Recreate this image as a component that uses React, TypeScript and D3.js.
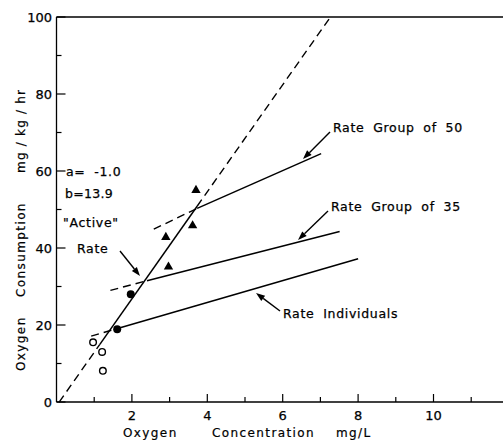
import React from "react";
import * as d3 from "d3";

// Data
const openCircles: [number, number][] = [[0.97, 15.5], [1.21, 13], [1.23, 8.1]];
const filledCircles: [number, number][] = [[1.61, 18.9], [1.97, 28]];
const triangles: [number, number][] = [[3.7, 55], [3.61, 45.8], [2.9, 42.8], [2.97, 35.1]];

// Active rate: y = a + b x
const activeA = -1.0;
const activeB = 13.9;
const activeDashLow: [number, number] = [0.07, 1.15];
const activeSolid: [number, number] = [1.15, 3.73];
const activeDashHigh: [number, number] = [3.73, 7.27];

// Group lines: [x0, y0, x1, y1]
const group50Dash: [number, number, number, number] = [2.58, 44.9, 3.73, 50.3];
const group50Solid: [number, number, number, number] = [3.73, 50.3, 7.02, 64.5];
const group35Dash: [number, number, number, number] = [1.43, 29.0, 2.4, 31.5];
const group35Solid: [number, number, number, number] = [2.4, 31.5, 7.51, 44.3];
const indivDash: [number, number, number, number] = [0.92, 17.1, 1.55, 18.9];
const indivSolid: [number, number, number, number] = [1.55, 18.9, 8.0, 37.2];

const xMajor = [2, 4, 6, 8, 10];
const xMinor = [1, 3, 5, 7, 9, 11];
const yMajor = [0, 20, 40, 60, 80, 100];
const yMinor = [10, 30, 50, 70, 90];

const FONT = "'DejaVu Sans', sans-serif";

export default function App() {
  const W = 503, H = 440;
  const x = d3.scaleLinear().domain([0, 12]).range([56.5, 56.5 + 12 * 37.7]);
  const y = d3.scaleLinear().domain([0, 100]).range([402, 17]);
  const line = d3.line<[number, number]>().x(d => x(d[0])).y(d => y(d[1]));
  const act = (r: [number, number]) => line([[r[0], activeA + activeB * r[0]], [r[1], activeA + activeB * r[1]]]) || "";
  const seg = (s: [number, number, number, number]) => line([[s[0], s[1]], [s[2], s[3]]]) || "";
  const dash = "8,5";
  const tri = d3.symbol().type(d3.symbolTriangle).size(38)() || "";

  const arrow = (x1: number, y1: number, x2: number, y2: number, key: string) => {
    const ang = Math.atan2(y2 - y1, x2 - x1);
    const L = 9, w = 3.2;
    const bx = x2 - L * Math.cos(ang), by = y2 - L * Math.sin(ang);
    const px = -Math.sin(ang) * w, py = Math.cos(ang) * w;
    return (
      <g key={key}>
        <line x1={x1} y1={y1} x2={bx} y2={by} stroke="#000" strokeWidth={1.4} />
        <path d={`M${x2},${y2}L${bx + px},${by + py}L${bx - px},${by - py}Z`} fill="#000" />
      </g>
    );
  };

  const txt = { fontFamily: FONT, fontSize: 13, fill: "#000", stroke: "#000", strokeWidth: 0.25 } as const;
  const lbl = { fontFamily: FONT, fontSize: 12.5, fill: "#000", letterSpacing: 0.7, wordSpacing: 4, stroke: "#000", strokeWidth: 0.25 } as const;
  const ttl = { fontFamily: FONT, fontSize: 12, fill: "#000", letterSpacing: 1.4, stroke: "#000", strokeWidth: 0.2 } as const;

  return (
    <svg width={W} height={H} style={{ position: "absolute", left: 0, top: 0, background: "#fff" }}>
      <rect width={W} height={H} fill="#fff" />
      {/* frame */}
      <line x1={x(0)} y1={y(0)} x2={W} y2={y(0)} stroke="#000" strokeWidth={1.3} />
      <line x1={x(0)} y1={y(100)} x2={W} y2={y(100)} stroke="#000" strokeWidth={1.3} />
      <line x1={x(0)} y1={y(0)} x2={x(0)} y2={y(100)} stroke="#000" strokeWidth={1.3} />
      {/* x ticks */}
      {xMajor.map(v => <line key={"xM" + v} x1={x(v)} x2={x(v)} y1={y(0)} y2={y(0) - 8} stroke="#000" strokeWidth={1.2} />)}
      {xMinor.map(v => <line key={"xm" + v} x1={x(v)} x2={x(v)} y1={y(0)} y2={y(0) - 5} stroke="#000" strokeWidth={1.2} />)}
      {xMajor.map(v => <text key={"xl" + v} x={x(v)} y={420} textAnchor="middle" {...txt}>{v}</text>)}
      {/* y ticks */}
      {yMajor.map(v => <line key={"yM" + v} x1={x(0)} x2={x(0) + 9} y1={y(v)} y2={y(v)} stroke="#000" strokeWidth={1.2} />)}
      {yMinor.map(v => <line key={"ym" + v} x1={x(0)} x2={x(0) + 5} y1={y(v)} y2={y(v)} stroke="#000" strokeWidth={1.2} />)}
      {yMajor.map(v => <text key={"yl" + v} x={52} y={y(v) + 5} textAnchor="end" {...txt}>{v}</text>)}
      {/* axis titles */}
      <text x={123} y={437} {...ttl}>Oxygen</text>
      <text x={212} y={437} {...ttl}>Concentration</text>
      <text x={336} y={437} {...ttl}>mg/L</text>
      <text transform="translate(25,371) rotate(-90)" {...ttl}>Oxygen</text>
      <text transform="translate(25,297) rotate(-90)" {...ttl}>Consumption</text>
      <text transform="translate(25,173) rotate(-90)" {...ttl} letterSpacing={1.2}>mg / kg / hr</text>

      {/* active rate line */}
      <path d={act(activeDashLow)} stroke="#000" strokeWidth={1.4} strokeDasharray={dash} fill="none" />
      <path d={act(activeSolid)} stroke="#000" strokeWidth={1.5} fill="none" />
      <path d={act(activeDashHigh)} stroke="#000" strokeWidth={1.4} strokeDasharray={dash} fill="none" />
      {/* group lines */}
      <path d={seg(group50Dash)} stroke="#000" strokeWidth={1.4} strokeDasharray={dash} fill="none" />
      <path d={seg(group50Solid)} stroke="#000" strokeWidth={1.5} fill="none" />
      <path d={seg(group35Dash)} stroke="#000" strokeWidth={1.4} strokeDasharray={dash} fill="none" />
      <path d={seg(group35Solid)} stroke="#000" strokeWidth={1.5} fill="none" />
      <path d={seg(indivDash)} stroke="#000" strokeWidth={1.4} strokeDasharray={dash} fill="none" />
      <path d={seg(indivSolid)} stroke="#000" strokeWidth={1.5} fill="none" />

      {/* points */}
      {openCircles.map((d, i) => <circle key={"o" + i} cx={x(d[0])} cy={y(d[1])} r={3.3} fill="#fff" stroke="#000" strokeWidth={1.4} />)}
      {filledCircles.map((d, i) => <circle key={"f" + i} cx={x(d[0])} cy={y(d[1])} r={4} fill="#000" />)}
      {triangles.map((d, i) => <path key={"t" + i} d={tri} transform={`translate(${x(d[0])},${y(d[1])})`} fill="#000" />)}

      {/* annotations */}
      <text x={66} y={176} {...lbl}>a= -1.0</text>
      <text x={65} y={198} {...lbl} letterSpacing={0.3}>b=13.9</text>
      <text x={63} y={227} {...lbl}>"Active"</text>
      <text x={77} y={253} {...lbl}>Rate</text>
      {arrow(120, 251, 140, 276, "a1")}

      <text x={333} y={132} {...lbl}>Rate Group of 50</text>
      {arrow(330, 132, 303, 159, "a2")}
      <text x={331} y={211} {...lbl}>Rate Group of 35</text>
      {arrow(328, 211, 298, 240, "a3")}
      <text x={283} y={318} {...lbl}>Rate Individuals</text>
      {arrow(280, 311, 256, 293, "a4")}
    </svg>
  );
}
